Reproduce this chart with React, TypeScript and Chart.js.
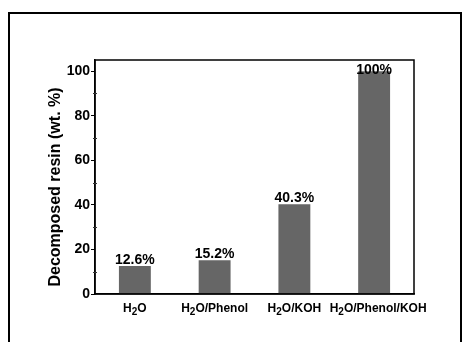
import React, { useEffect, useRef } from "react";
import { Chart, registerables } from "chart.js";

Chart.register(...registerables);

const categories = ["H₂O", "H₂O/Phenol", "H₂O/KOH", "H₂O/Phenol/KOH"];
const values = [12.6, 15.2, 40.3, 100];
const valueLabels = ["12.6%", "15.2%", "40.3%", "100%"];
const majorTicks = [0, 20, 40, 60, 80, 100];
const minorTicks = [10, 30, 50, 70, 90];
const yTitle = "Decomposed resin (wt. %)";

const FONT = "'Liberation Sans', Arial, sans-serif";

// draw a label, rendering "₂" as a real lowered smaller "2"
function drawSubLabel(ctx: CanvasRenderingContext2D, text: string, cx: number, baseline: number) {
  const parts = text.split("₂");
  const main = `bold 12px ${FONT}`;
  const sub = `bold 10px ${FONT}`;
  const pieces: { t: string; f: string; dy: number }[] = [];
  parts.forEach((p, i) => {
    if (i > 0) pieces.push({ t: "2", f: sub, dy: 3 });
    if (p) pieces.push({ t: p, f: main, dy: 0 });
  });
  let total = 0;
  const widths = pieces.map((p) => {
    ctx.font = p.f;
    const w = ctx.measureText(p.t).width;
    total += w;
    return w;
  });
  let x = cx - total / 2;
  ctx.textAlign = "left";
  ctx.textBaseline = "alphabetic";
  pieces.forEach((p, i) => {
    ctx.font = p.f;
    ctx.fillText(p.t, x, baseline + p.dy);
    x += widths[i];
  });
}

const decorPlugin = {
  id: "decor",
  afterDraw(chart: any) {
    const { ctx, chartArea } = chart;
    const y = chart.scales.y;
    const xs = chart.scales.x;
    ctx.save();
    // outer frame
    ctx.strokeStyle = "#000";
    ctx.lineWidth = 2;
    ctx.strokeRect(9, 13, 452, 400);
    // plot frame
    ctx.lineWidth = 1.5;
    ctx.strokeRect(chartArea.left, chartArea.top, chartArea.right - chartArea.left, chartArea.bottom - chartArea.top);
    // minor ticks
    ctx.lineWidth = 1;
    ctx.strokeStyle = "#333";
    minorTicks.forEach((v) => {
      const py = Math.round(y.getPixelForValue(v)) + 0.5;
      ctx.beginPath();
      ctx.moveTo(chartArea.left - 2, py);
      ctx.lineTo(chartArea.left + 2, py);
      ctx.stroke();
    });
    // value labels
    const meta = chart.getDatasetMeta(0);
    ctx.fillStyle = "#000";
    ctx.font = `bold 14px ${FONT}`;
    ctx.textAlign = "center";
    ctx.textBaseline = "alphabetic";
    meta.data.forEach((bar: any, i: number) => {
      const by = Math.max(bar.y - 2, chartArea.top + 14);
      ctx.fillText(valueLabels[i], bar.x, by);
    });
    // x labels
    categories.forEach((c, i) => {
      const px = xs.getPixelForTick(i) + (i === categories.length - 1 ? 4 : 0);
      drawSubLabel(ctx, c, px, chartArea.bottom + 18);
    });
    // y title
    ctx.translate(56, 187);
    ctx.rotate(-Math.PI / 2);
    ctx.font = `bold 16px ${FONT}`;
    ctx.textAlign = "center";
    ctx.textBaseline = "middle";
    ctx.fillText(yTitle, 0, 0);
    ctx.restore();
  },
};

export default function App() {
  const ref = useRef<HTMLCanvasElement>(null);
  useEffect(() => {
    if (!ref.current) return;
    const chart = new Chart(ref.current, {
      type: "bar",
      data: {
        labels: categories,
        datasets: [
          {
            data: values,
            backgroundColor: "#666666",
            borderWidth: 0,
            barPercentage: 0.4,
            categoryPercentage: 1,
          },
        ],
      },
      options: {
        animation: false,
        responsive: false,
        devicePixelRatio: 1,
        layout: { padding: { left: 40, right: 49, top: 60, bottom: 0 } },
        plugins: { legend: { display: false }, tooltip: { enabled: false } },
        scales: {
          x: {
            grid: { display: false },
            border: { display: true, color: "#000", width: 1.5 },
            ticks: { display: false },
            afterFit: (s: any) => {
              s.height = 48;
            },
          },
          y: {
            min: 0,
            max: 105,
            grid: { display: true, drawOnChartArea: false, drawTicks: true, tickLength: 4, color: "#000", tickColor: "#000" },
            border: { display: true, color: "#000", width: 1.5 },
            ticks: {
              stepSize: 20,
              color: "#000",
              padding: 1,
              font: { family: FONT, size: 14, weight: "bold" },
            },
            afterBuildTicks: (s: any) => {
              s.ticks = majorTicks.map((v) => ({ value: v }));
            },
            afterFit: (s: any) => {
              s.width = 55;
            },
          },
        },
      },
      plugins: [decorPlugin],
    });
    return () => chart.destroy();
  }, []);
  return (
    <div style={{ position: "fixed", left: 0, top: 0, width: 463, height: 342, background: "#fff" }}>
      <canvas ref={ref} width={463} height={342} style={{ display: "block" }} />
    </div>
  );
}
